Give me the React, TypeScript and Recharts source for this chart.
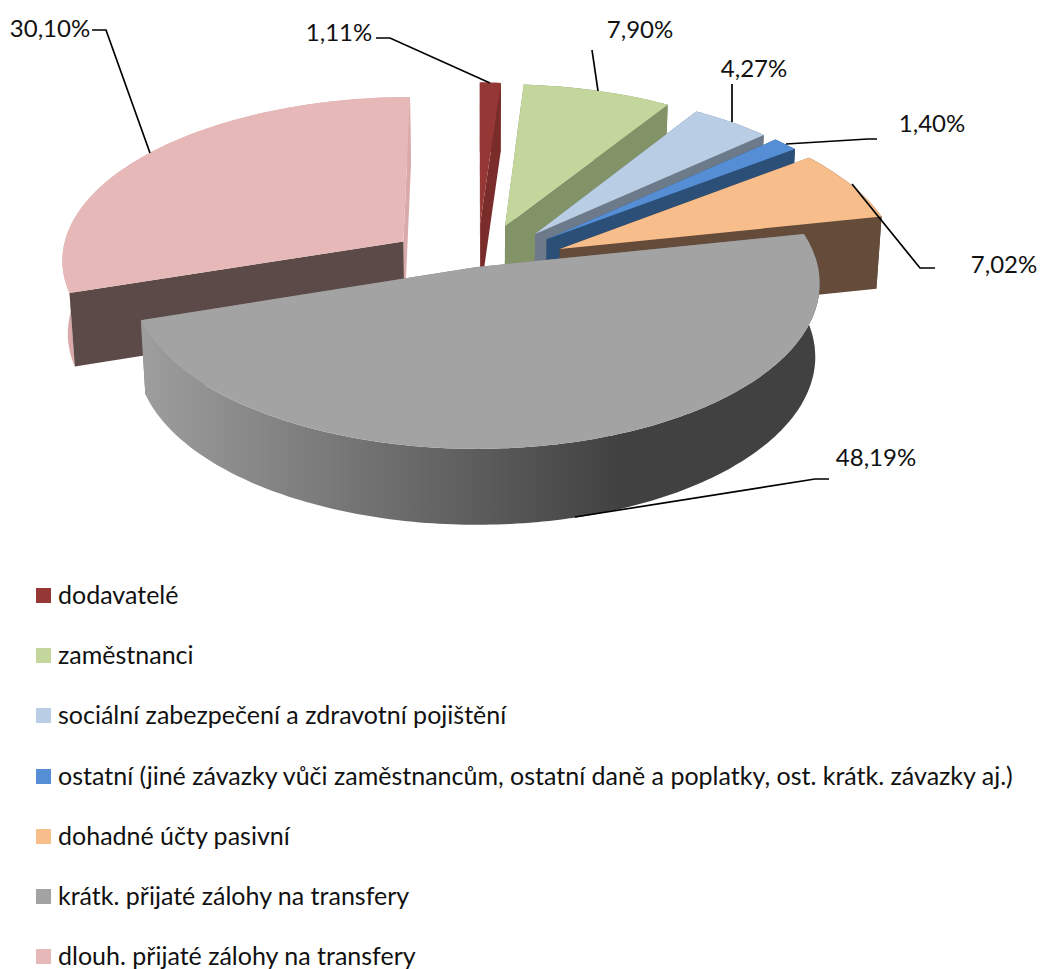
import React from "react";
import { PieChart, Pie, Legend } from "recharts";

const CATEGORIES = [
  "dodavatelé",
  "zaměstnanci",
  "sociální zabezpečení a zdravotní pojištění",
  "ostatní (jiné závazky vůči zaměstnancům, ostatní daně a poplatky, ost. krátk. závazky aj.)",
  "dohadné účty pasivní",
  "krátk. přijaté zálohy na transfery",
  "dlouh. přijaté zálohy na transfery",
];
const VALUES = [1.11, 7.9, 4.27, 1.4, 7.02, 48.19, 30.1];

const TOP_COLORS = ["#953735", "#c3d69b", "#b9cde5", "#558ed5", "#f7bd8b", "#a3a3a3", "#e6b9b8"];
const CUT_COLORS = ["#7a2c2a", "#839368", "#6c7a8a", "#2c4f78", "#654b39", "#7d7d7d", "#5c4a48"];
const END_CUT_COLORS = ["#7a2c2a", "#839368", "#6c7a8a", "#2c4f78", "#654b39", "#7d7d7d", "#d9aaa9"];
const RIM_COLORS = ["#7a2c2a", "#839368", "#6c7a8a", "#2c4f78", "#654b39", "url(#grayRim)", "#d9aaa9"];
const EXPLODE = [0.27, 0.27, 0.27, 0.27, 0.27, 0, 0.27];
const BACK_SLICE = 6;

// text centre + leader line, same order as CATEGORIES
const LABELS = [
  { x: 339, y: 31, line: "376,38 390,38 490,83" },
  { x: 640, y: 28, line: "592,50 598,91" },
  { x: 754, y: 67, line: "732,84 732,122" },
  { x: 932, y: 122, line: "786,144 868,139 877,139" },
  { x: 1004, y: 263, line: "852,184 920,268 935,268" },
  { x: 876, y: 456, line: "575,517 815,479 829,479" },
  { x: 50, y: 27, line: "92,30 106,30 150,153" },
];

const rows = CATEGORIES.map((name, i) => ({ name, value: VALUES[i] }));

const FONT = "Lato, Carlito, sans-serif";
const W = 1040;
const H = 969;
const CX = 477;
const CY = 267;
const R = 341;

// fake 3D: tilt, perspective and extrusion
const TILT = 0.48;
const PERSP = 0.1;
const LEFT_STRETCH = 0.006;
const DEPTH = 73;
const DEPTH_V = -0.04;
const BOTTOM_SCALE = 0.987;

type Pt = [number, number];

function topPoint(u: number, v: number, cx: number, cy: number, r: number): Pt {
  const s = 1 / (1 + PERSP * v);
  const sx = s * (1 + LEFT_STRETCH * Math.max(0, -u));
  return [cx + r * u * sx, cy - r * TILT * v * s];
}

function bottomPoint(u: number, v: number, cx: number, cy: number, r: number): Pt {
  const [x, y] = topPoint(u, v, cx, cy, r);
  return [cx + (x - cx) * BOTTOM_SCALE, y + DEPTH * (1 + DEPTH_V * v)];
}

const toPath = (pts: Pt[]) =>
  "M" + pts.map((p) => p[0].toFixed(1) + "," + p[1].toFixed(1)).join("L") + "Z";

const rad = (d: number) => (d * Math.PI) / 180;

function Slice3D(props: any) {
  const { cx, cy, outerRadius, startAngle, endAngle } = props;
  const i = CATEGORIES.indexOf(props.name ?? props.payload?.name);
  const a0 = 90 - startAngle;
  const a1 = 90 - endAngle;
  const mid = (a0 + a1) / 2;
  const ex = EXPLODE[i] * Math.sin(rad(mid));
  const ey = EXPLODE[i] * Math.cos(rad(mid));

  const rim: [number, number][] = [];
  const steps = Math.max(2, Math.ceil(a1 - a0));
  for (let k = 0; k <= steps; k++) {
    const a = rad(a0 + ((a1 - a0) * k) / steps);
    rim.push([ex + Math.sin(a), ey + Math.cos(a)]);
  }
  const first = rim[0];
  const last = rim[rim.length - 1];
  const T = (p: [number, number]) => topPoint(p[0], p[1], cx, cy, outerRadius);
  const B = (p: [number, number]) => bottomPoint(p[0], p[1], cx, cy, outerRadius);
  const apex: [number, number] = [ex, ey];

  const rimWall = <path d={toPath([...rim.map(T), ...rim.map(B).reverse()])} fill={RIM_COLORS[i]} />;
  const startCut = <path d={toPath([T(apex), T(first), B(first), B(apex)])} fill={CUT_COLORS[i]} />;
  const endCut = <path d={toPath([T(apex), T(last), B(last), B(apex)])} fill={END_CUT_COLORS[i]} />;

  // only the back slice shows its start cut in front of its rim
  return (
    <g>
      {i === BACK_SLICE ? null : startCut}
      {endCut}
      {rimWall}
      {i === BACK_SLICE ? startCut : null}
      <path d={toPath([T(apex), ...rim.map(T)])} fill={TOP_COLORS[i]} />
    </g>
  );
}

function SliceLabel(props: any, only: (i: number) => boolean) {
  const i = CATEGORIES.indexOf(props.name ?? props.payload?.name);
  if (!only(i)) return <g />;
  const l = LABELS[i];
  return (
    <g>
      <polyline points={l.line} fill="none" stroke="#000" strokeWidth={1.7} />
      <text
        x={l.x}
        y={l.y}
        textAnchor="middle"
        dominantBaseline="central"
        fontFamily={FONT}
        fontSize={24}
        fill="#111"
      >
        {VALUES[i].toFixed(2).replace(".", ",")}%
      </text>
    </g>
  );
}

function LegendList() {
  return (
    <div style={{ position: "relative", width: W, height: H, fontFamily: FONT, fontSize: 25, color: "#111" }}>
      {CATEGORIES.map((name, i) => (
        <React.Fragment key={name}>
          <div
            style={{
              position: "absolute",
              left: 36,
              top: 588 + i * 60.2,
              width: 15,
              height: 15,
              background: TOP_COLORS[i],
            }}
          />
          <div
            style={{
              position: "absolute",
              left: 58,
              top: 594 + i * 60.2 - 15,
              height: 30,
              lineHeight: "30px",
              whiteSpace: "nowrap",
            }}
          >
            {name}
          </div>
        </React.Fragment>
      ))}
    </div>
  );
}

export default function App() {
  const isBack = (i: number) => i === BACK_SLICE;
  const isFront = (i: number) => i !== BACK_SLICE;
  const shapeFor = (only: (i: number) => boolean) => (p: any) => {
    const i = CATEGORIES.indexOf(p.name ?? p.payload?.name);
    return only(i) ? <Slice3D {...p} /> : <g />;
  };

  return (
    <div style={{ position: "absolute", left: 0, top: 0, width: W, height: H, background: "#fff" }}>
      <PieChart width={W} height={H} margin={{ top: 0, right: 0, bottom: 0, left: 0 }}>
        <defs>
          <linearGradient id="grayRim" gradientUnits="userSpaceOnUse" x1="140" y1="0" x2="620" y2="0">
            <stop offset="0" stopColor="#9e9e9e" />
            <stop offset="1" stopColor="#414141" />
          </linearGradient>
        </defs>
        <Legend
          content={() => <LegendList />}
          wrapperStyle={{ position: "absolute", left: 0, top: 0, width: W, height: H, pointerEvents: "none" }}
        />
        {[isBack, isFront].map((only, n) => (
          <Pie
            key={n}
            data={rows}
            dataKey="value"
            nameKey="name"
            cx={CX}
            cy={CY}
            innerRadius={0}
            outerRadius={R}
            startAngle={90}
            endAngle={-270}
            stroke="none"
            isAnimationActive={false}
            shape={shapeFor(only)}
            inactiveShape={shapeFor(only)}
            label={(p: any) => SliceLabel(p, only)}
            labelLine={false}
          />
        ))}
      </PieChart>
    </div>
  );
}
